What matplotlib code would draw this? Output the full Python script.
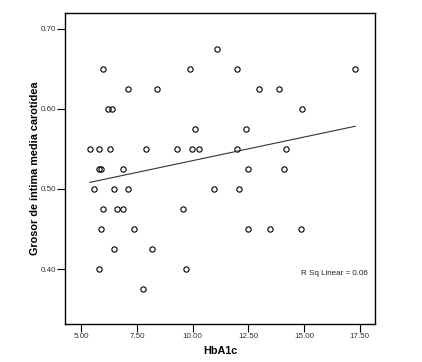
import numpy as np
import matplotlib
matplotlib.use('Agg')
import matplotlib.pyplot as plt

# HbA1c vs grosor de intima media
hba1c = [11.09,
         5.99, 9.89, 11.99, 17.30,
         7.08, 8.39, 12.99, 13.89,
         6.19, 6.39, 14.90,
         10.09, 12.40,
         5.38, 5.78, 6.29, 7.89, 9.30, 9.98, 10.28, 11.99, 14.20,
         5.78, 5.86, 6.89, 12.50, 14.10,
         5.58, 6.48, 7.08, 10.98, 12.10,
         5.99, 6.59, 6.89, 9.58,
         5.88, 7.38, 12.50, 13.49, 14.88,
         6.48, 8.19,
         5.78, 9.69,
         7.78]
grosor = [0.675,
          0.65, 0.65, 0.65, 0.65,
          0.625, 0.625, 0.625, 0.625,
          0.60, 0.60, 0.60,
          0.575, 0.575,
          0.55, 0.55, 0.55, 0.55, 0.55, 0.55, 0.55, 0.55, 0.55,
          0.525, 0.525, 0.525, 0.525, 0.525,
          0.50, 0.50, 0.50, 0.50, 0.50,
          0.475, 0.475, 0.475, 0.475,
          0.45, 0.45, 0.45, 0.45, 0.45,
          0.425, 0.425,
          0.40, 0.40,
          0.375]
xticks = [5.0, 7.5, 10.0, 12.5, 15.0, 17.5]
yticks = [0.40, 0.50, 0.60, 0.70]

plt.rcParams['font.family'] = ['Liberation Sans', 'DejaVu Sans']

x = np.array(hba1c)
y = np.array(grosor)

fig = plt.figure(figsize=(4.22, 3.62), dpi=100)
ax = fig.add_axes([0.1548, 0.104, 0.7344, 0.860])

ax.plot(x, y, 'o', ms=3.8, mfc='none', mec='black', mew=0.8)

# recta de ajuste lineal
b, a = np.polyfit(x, y, 1)
xs = np.array([x.min(), x.max()])
ax.plot(xs, a + b * xs, color='#333333', lw=0.8)

ax.set_xlim(4.28, 18.2)
ax.set_ylim(0.331, 0.7196)
ax.set_xticks(xticks)
ax.set_xticklabels(['%.2f' % t for t in xticks])
ax.set_yticks(yticks)
ax.set_yticklabels(['%.2f' % t for t in yticks])
ax.tick_params(direction='out', length=6, width=0.8, labelsize=5.8,
               labelcolor='#333333', pad=0.5)

for s in ax.spines.values():
    s.set_linewidth(1.0)

ax.set_xlabel('HbA1c', fontsize=7.8, fontweight='bold', labelpad=4)
ax.set_ylabel('Grosor de íntima media carotídea', fontsize=7.8,
              fontweight='bold')
ax.yaxis.set_label_coords(-0.082, 0.5)

ax.text(0.975, 0.162, 'R Sq Linear = 0.06', transform=ax.transAxes,
        ha='right', va='center', fontsize=5.8, color='#222222')

fig.savefig('out.png', dpi=100)
